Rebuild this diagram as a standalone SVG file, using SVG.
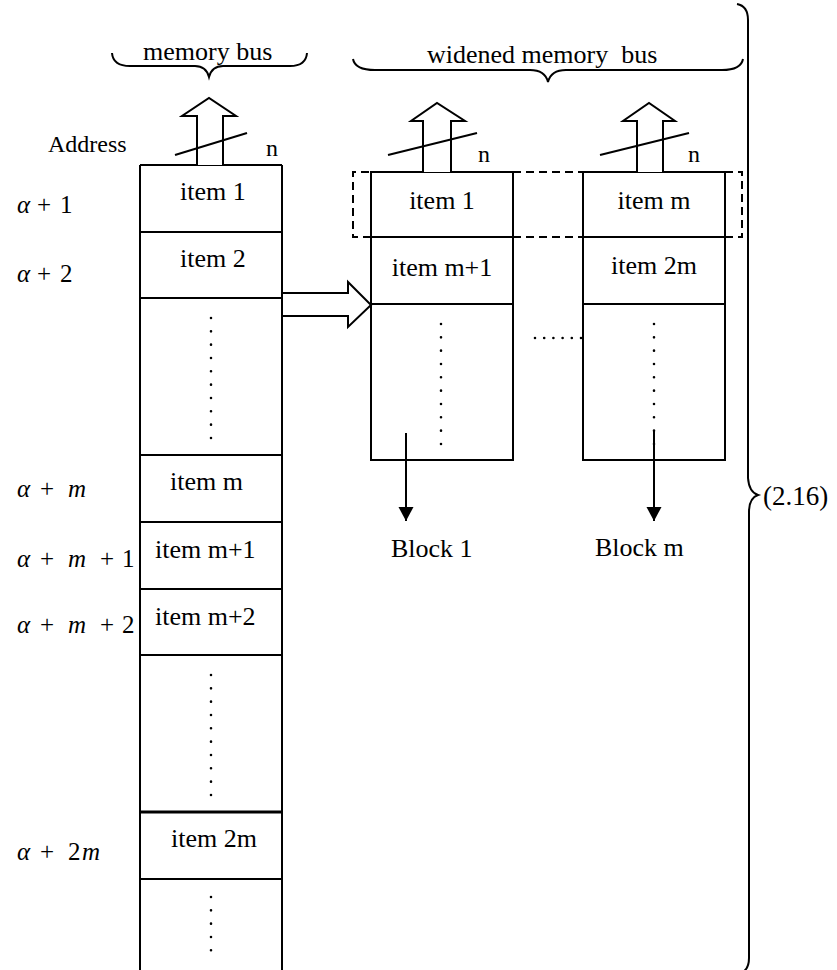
<svg xmlns="http://www.w3.org/2000/svg" width="837" height="970" viewBox="0 0 837 970">
<style>
text{font-family:"Liberation Serif","Times New Roman",serif;fill:#000}
.t{font-size:26px}
.a{font-size:25px}
.i{font-style:italic}
.ln{fill:none;stroke:#000;stroke-width:2}
.box{fill:#fff;stroke:#000;stroke-width:2}
.dots{fill:none;stroke:#000;stroke-width:2.6;stroke-linecap:round;stroke-dasharray:0 13.33}
.dash{fill:none;stroke:#000;stroke-width:2;stroke-dasharray:8 5}
.hollow{fill:#fff;stroke:#000;stroke-width:2;stroke-linejoin:miter}
</style>
<defs>
<marker id="ah" markerWidth="16" markerHeight="16" viewBox="0 0 16 16" refX="14" refY="8" orient="auto" markerUnits="userSpaceOnUse">
<path d="M0,0.5 L14,8 L0,15.5 Z" fill="#000"/>
</marker>
</defs>

<g id="brace-memory-bus">
<path class="ln" d="M112,53 Q113,66 130,66 L195,66 Q206,66 209,77 Q212,66 223,66 L290,66 Q306,66 307,53"/>
<text class="t" x="143" y="60">memory bus</text>
</g>

<g id="brace-widened-bus">
<path class="ln" d="M353,59 Q355,70 375,70 L530,70 Q545,70 548,82 Q551,70 566,70 L722,70 Q741,70 743,59"/>
<text class="t" x="427" y="63">widened memory&#160; bus</text>
</g>

<g id="brace-big">
<path class="ln" d="M737,4 Q748,6 748,20 L748,478 Q749,492 758,495 Q749,498 749,512 L749,958 Q749,968 743,972"/>
<text class="t" x="763" y="505" style="font-size:27px">(2.16)</text>
</g>

<g id="address-label">
<text x="48" y="152" style="font-size:24px">Address</text>
</g>

<g id="alpha-labels" class="a">
<text y="213"><tspan class="i" x="17">α</tspan><tspan x="37">+</tspan><tspan x="60">1</tspan></text>
<text y="282"><tspan class="i" x="17">α</tspan><tspan x="37">+</tspan><tspan x="60">2</tspan></text>
<text y="497"><tspan class="i" x="17">α</tspan><tspan x="40">+</tspan><tspan class="i" x="68">m</tspan></text>
<text y="567"><tspan class="i" x="17">α</tspan><tspan x="40">+</tspan><tspan class="i" x="68">m</tspan><tspan x="100">+</tspan><tspan x="122">1</tspan></text>
<text y="633"><tspan class="i" x="17">α</tspan><tspan x="40">+</tspan><tspan class="i" x="68">m</tspan><tspan x="100">+</tspan><tspan x="122">2</tspan></text>
<text y="860"><tspan class="i" x="17">α</tspan><tspan x="40">+</tspan><tspan x="68">2</tspan><tspan class="i" x="82">m</tspan></text>
</g>

<g id="memory-column">
<path class="ln" d="M140,165 L282,165 M140,165 L140,970 M282,165 L282,970"/>
<path class="ln" d="M140,232 L282,232 M140,298 L282,298 M140,455 L282,455 M140,522 L282,522 M140,589 L282,589 M140,655 L282,655 M140,879 L282,879"/>
<path class="ln" d="M140,812 L282,812" style="stroke-width:3"/>
<text class="t" x="180" y="200">item 1</text>
<text class="t" x="180" y="267">item 2</text>
<line class="dots" x1="211" y1="318" x2="211" y2="440"/>
<text class="t" x="170" y="490">item m</text>
<text class="t" x="155" y="558">item m+1</text>
<text class="t" x="155" y="625">item m+2</text>
<line class="dots" x1="211" y1="675" x2="211" y2="797"/>
<text class="t" x="171" y="847">item 2m</text>
<line class="dots" x1="211" y1="897" x2="211" y2="955"/>
</g>

<g id="bus-arrow-left">
<path class="hollow" d="M197,165 L197,116 L182,116 L209,98 L236,116 L223,116 L223,165"/>
<line class="ln" x1="175" y1="155" x2="247" y2="133"/>
<text x="266" y="156" style="font-size:24px">n</text>
</g>

<g id="block-1">
<rect class="box" x="371" y="172" width="142" height="288"/>
<path class="ln" d="M371,237 L513,237 M371,304 L513,304"/>
<text class="t" x="442" y="209" text-anchor="middle">item 1</text>
<text class="t" x="442" y="276" text-anchor="middle">item m+1</text>
<line class="dots" x1="441" y1="324" x2="441" y2="446"/>
</g>

<g id="block-m">
<rect class="box" x="583" y="172" width="142" height="288"/>
<path class="ln" d="M583,237 L725,237 M583,304 L725,304"/>
<text class="t" x="654" y="209" text-anchor="middle">item m</text>
<text class="t" x="654" y="274" text-anchor="middle">item 2m</text>
<line class="dots" x1="654" y1="324" x2="654" y2="446"/>
</g>

<g id="bus-arrow-block1">
<path class="hollow" d="M423,172 L423,121 L411,121 L437,103 L465,121 L451,121 L451,172"/>
<line class="ln" x1="388" y1="155" x2="477" y2="133"/>
<text x="478" y="162" style="font-size:24px">n</text>
</g>

<g id="bus-arrow-blockm">
<path class="hollow" d="M637,172 L637,121 L623,121 L649,103 L675,121 L663,121 L663,172"/>
<line class="ln" x1="600" y1="155" x2="689" y2="133"/>
<text x="688" y="162" style="font-size:24px">n</text>
</g>

<g id="wide-word-frame">
<path class="dash" d="M513,172 L583,172 M725,172 L742,172 L742,237 L725,237 M513,237 L583,237 M371,237 L353,237 L353,172 L371,172"/>
</g>

<g id="connectors">
<path class="hollow" d="M283,293 L348,293 L348,282 L371,305 L348,327 L348,316 L283,316"/>
<line class="dots" x1="535" y1="338" x2="581" y2="338" style="stroke-dasharray:0 9.2"/>
<line class="ln" x1="406" y1="433" x2="406" y2="521" marker-end="url(#ah)"/>
<line class="ln" x1="654" y1="430" x2="654" y2="521" marker-end="url(#ah)"/>
</g>

<g id="block-labels">
<text class="t" x="391" y="557">Block 1</text>
<text class="t" x="595" y="556">Block m</text>
</g>
</svg>
